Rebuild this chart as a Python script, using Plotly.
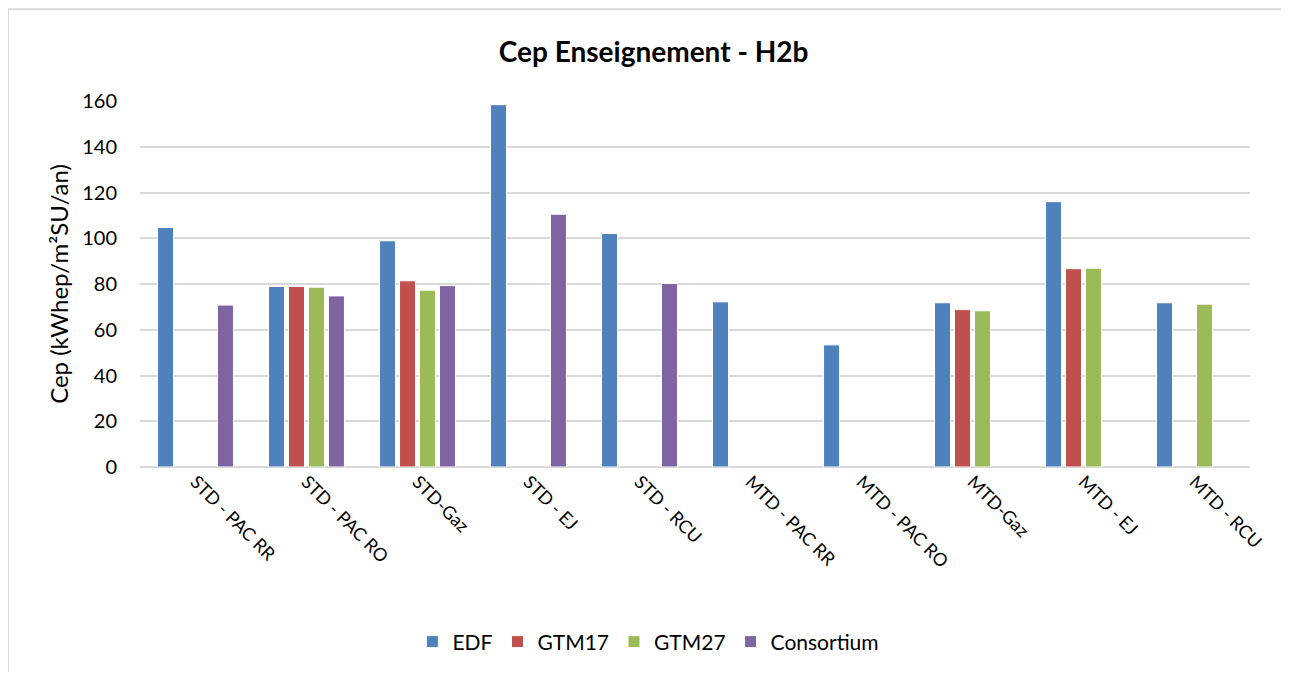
import plotly.graph_objects as go

# categories and series (None = no bar)
categories = ["STD - PAC RR", "STD - PAC RO", "STD-Gaz", "STD - EJ", "STD - RCU",
              "MTD - PAC RR", "MTD - PAC RO", "MTD-Gaz", "MTD - EJ", "MTD - RCU"]
edf = [104.7, 78.9, 98.9, 158.4, 102.1, 72.2, 53.4, 71.8, 116.0, 71.8]
gtm17 = [None, 78.9, 81.4, None, None, None, None, 68.8, 86.7, None]
gtm27 = [None, 78.6, 77.3, None, None, None, None, 68.3, 86.9, 71.2]
consortium = [70.8, 74.8, 79.3, 110.5, 80.2, None, None, None, None, None]

series = [("EDF", edf, "#4F81BD"), ("GTM17", gtm17, "#C0504D"),
          ("GTM27", gtm27, "#9BBB59"), ("Consortium", consortium, "#8064A2")]

FONT = "Lato, 'Open Sans', sans-serif"

fig = go.Figure()
for name, vals, col in series:
    fig.add_trace(go.Bar(x=categories, y=vals, name=name,
                         marker=dict(color=col, line=dict(color="white", width=1))))

# page body adds 8px offset, so figure is 8px smaller than the window
fig.update_layout(
    width=1281, height=665,
    barmode="group", bargap=0.28, bargroupgap=0.2,
    plot_bgcolor="white", paper_bgcolor="white",
    margin=dict(l=132, r=39, t=93, b=205),
    font=dict(family=FONT, size=20, color="black"),
    title=dict(text="<b>Cep Enseignement - H2b</b>", x=0.504, xref="container",
               y=0.934, yref="container", yanchor="middle",
               font=dict(family=FONT, size=28, color="black")),
    legend=dict(orientation="h", x=0.458, y=-0.474, xanchor="center", yanchor="middle",
                font=dict(family=FONT, size=21), itemwidth=30, traceorder="normal"),
    showlegend=True,
)

fig.update_xaxes(tickangle=45, showgrid=False, showline=False, ticks="",
                 tickfont=dict(family=FONT, size=18))
fig.update_yaxes(range=[0, 160], dtick=20, showgrid=True, gridcolor="#D9D9D9", gridwidth=1.5,
                 zeroline=True, zerolinecolor="#D9D9D9", zerolinewidth=2,
                 showline=False, ticks="", ticklabelstandoff=22,
                 tickfont=dict(family=FONT, size=20),
                 title=dict(text="Cep (kWhep/m²SU/an)", font=dict(family=FONT, size=24), standoff=6))

# chart frame: only the top and left edges are visible in the crop
fig.add_shape(type="line", xref="paper", yref="paper", x0=-0.1189, x1=1.04, y0=1.2507, y1=1.2507,
              line=dict(color="#D9D9D9", width=2), layer="below")
fig.add_shape(type="line", xref="paper", yref="paper", x0=-0.1189, x1=-0.1189, y0=1.2507, y1=-0.56,
              line=dict(color="#D9D9D9", width=2), layer="below")

fig.write_html("out.html")
